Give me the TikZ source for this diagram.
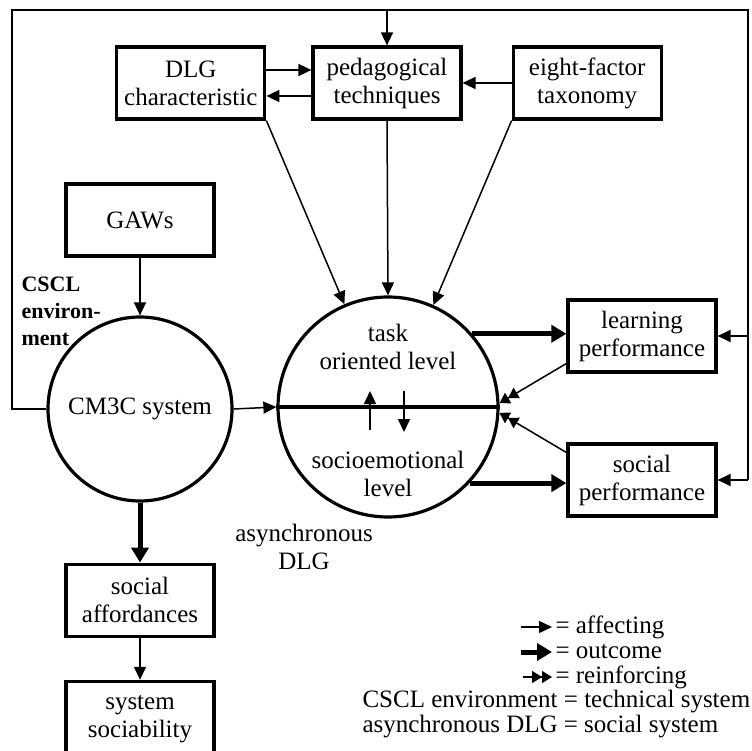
\documentclass[tikz,border=0pt]{standalone}
\usepackage{fontspec}
\setmainfont{Liberation Serif}
\usepackage{tikz}
\usetikzlibrary{arrows.meta, positioning}
\tikzstyle{block} = [rectangle, draw, line width=3.2pt, minimum width=148pt, minimum height=72pt, align=center]
\tikzstyle{ring} = [circle, draw, line width=3.2pt, align=center]
\tikzstyle{link} = [line width=1.5pt]
\tikzstyle{arrow} = [line width=1.5pt,-{Triangle[length=13pt,width=12pt]}]
\tikzstyle{outcome} = [line width=5pt,-{Triangle[length=15pt,width=17pt]}]
\tikzstyle{reinforce} = [line width=1.5pt,-{Triangle[length=10pt,width=12pt]Triangle[length=10pt,width=12pt]}]

\begin{document}
\begin{tikzpicture}[x=1pt, y=-1pt, font=\fontsize{25}{28}\selectfont]
\useasboundingbox (0,0) rectangle (752,751);

\node [block] (t) at (387,83) {pedagogical\\techniques};
\node [block] (t1) [left=45pt of t] {DLG\\characteristic};
\node [block] (t2) [right=49pt of t] {eight-factor\\taxonomy};

\node [block] (g) at (140,220) {GAWs};
\node [ring, minimum size=184pt] (c) at (140,409) {CM3C system};
\node [block] (sa) [below=60pt of c] {social\\affordances};
\node [block, minimum height=76pt] (ss) [below=42pt of sa] {system\\sociability};

\node [ring, minimum size=220pt] (l) at (388,407) {};
\node [align=center] (lt) at (388,347) {task\\oriented level};
\node [align=center] (ls) at (388,474) {socioemotional\\level};

\node [block] (lp) at (642,336) {learning\\performance};
\node [block] (sp) at (642,480) {social\\performance};

\node [anchor=west, align=left, font=\fontsize{22}{27}\selectfont\bfseries] (env) at (18,311) {CSCL\\environ-\\ment};
\node [align=center] (dlg) at (304,547) {asynchronous\\DLG};

% feedback loop
\coordinate (f1) at (12,10);
\coordinate (f2) at (748,10);
\draw [link] (c.west) -| (f1) -- (f2) -- (f2 |- sp.east);
\draw [arrow] (t.north |- f1) -- (t.north);
\draw [arrow] (f2 |- lp.east) -- (lp.east);
\draw [arrow] (f2 |- sp.east) -- (sp.east);

\draw [arrow] ([yshift=13pt]t1.east) -- ([yshift=13pt]t1.east -| t.west);
\draw [arrow] ([yshift=-13pt]t.west) -- ([yshift=-13pt]t.west -| t1.east);
\draw [arrow] (t2.west) -- (t.east);

\draw [arrow] (t1.south east) -- (l.113);
\draw [arrow] (t.south) -- (l.north);
\draw [arrow] (t2.south west) -- (l.66);

\draw [arrow] (g.south) -- (c.north);
\draw [arrow] (c.east) -- (l.west);
\draw [line width=3.2pt] (l.west) -- (l.east);

% inside the two levels
\coordinate (u1) at (370,430);
\coordinate (u2) at (370,391);
\coordinate (v1) at (404,391);
\coordinate (v2) at (404,432);
\draw [arrow] (u1) -- (u2);
\draw [arrow] (v1) -- (v2);

\draw [outcome] (l.41) -- (l.41 -| lp.west);
\draw [outcome] (l.-43) -- (l.-43 -| sp.west);
\draw [reinforce] (lp.200) -- (l.2);
\draw [reinforce] (sp.160) -- (l.-3);

\draw [outcome] (c.south) -- (sa.north);
\draw [arrow] (sa.south) -- (ss.north);

% legend
\coordinate (k1) at (521,627);
\coordinate (k2) at (521,652);
\coordinate (k3) at (523,677);
\node [anchor=west] (k1t) at (552,627) {= affecting};
\node [anchor=west] (k2t) at (552,652) {= outcome};
\node [anchor=west] (k3t) at (552,677) {= reinforcing};
\draw [arrow] (k1) -- (k1t.west);
\draw [outcome] (k2) -- (k2t.west);
\draw [reinforce] (k3) -- (k3t.west);
\node [anchor=west] (k4) at (359,702) {CSCL environment = technical system};
\node [anchor=west] (k5) at (359,727) {asynchronous DLG = social system};

\end{tikzpicture}
\end{document}
